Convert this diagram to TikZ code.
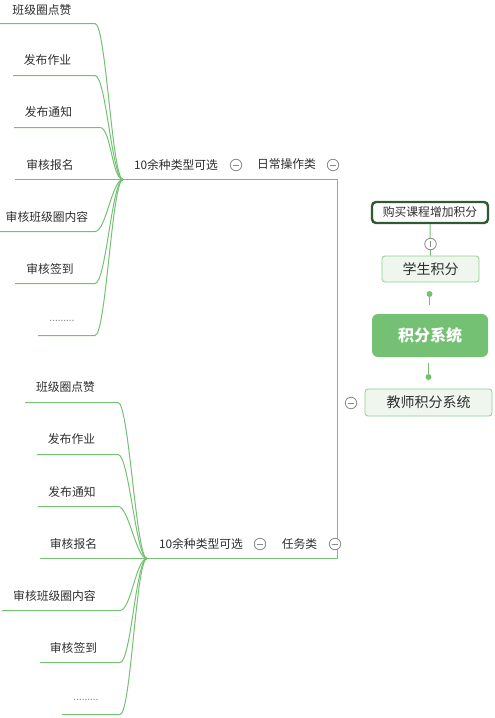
\documentclass[tikz,border=0pt]{standalone}
\usepackage{fontspec}
\setmainfont{Noto Sans CJK SC}
\definecolor{lc}{HTML}{74C174}
\definecolor{tc}{HTML}{2E2E2E}
\definecolor{gc}{HTML}{8A8A8A}
\definecolor{rootc}{HTML}{74C174}
\definecolor{lightf}{HTML}{EEF6EE}
\definecolor{lightb}{HTML}{8FCC8F}
\definecolor{darkb}{HTML}{2F5A33}
\begin{document}
\begin{tikzpicture}[x=1pt,y=-1pt,
  ln/.style={draw=lc, line width=1pt},
  leaf/.style={font=\fontsize{11.8}{13}\selectfont, text=tc, inner sep=0pt},
  tog/.style={circle, draw=gc, line width=0.8pt, minimum size=11.5pt, inner sep=0pt, fill=white,
    path picture={\draw[gc, line width=0.8pt] ([xshift=2.3pt]path picture bounding box.west) -- ([xshift=-2.3pt]path picture bounding box.east);}},
  togv/.style={circle, draw=gc, line width=0.8pt, minimum size=11.5pt, inner sep=0pt, fill=white,
    path picture={\draw[gc, line width=0.8pt] ([yshift=-2.3pt]path picture bounding box.north) -- ([yshift=2.3pt]path picture bounding box.south);}},
  lightbox/.style={draw=lightb, fill=lightf, line width=0.8pt, rounded corners=3pt, text=tc, inner sep=0pt,
    font=\fontsize{14}{16}\selectfont},
  rootbox/.style={fill=rootc, rounded corners=6pt, text=white, inner sep=0pt,
    font=\fontsize{16}{18}\selectfont\bfseries},
  buybox/.style={draw=darkb, fill=white, line width=2.4pt, rounded corners=4pt, text=tc, inner sep=0pt,
    font=\fontsize{11.8}{13}\selectfont},
  dots/.style={font=\fontsize{10}{12}\selectfont, text=gc, inner sep=0pt}
]
\useasboundingbox (0,0) rectangle (495,718);

% ---- right side nodes ----
\node[rootbox, minimum width=116pt, minimum height=43pt] (root) at (430,335.5) {积分系统};
\node[lightbox, minimum width=97pt, minimum height=26pt] (stu) at (430.5,269) {学生积分};
\node[buybox, minimum width=116pt, minimum height=21pt] (buy) at (430,212.5) {购买课程增加积分};
\node[lightbox, minimum width=127pt, minimum height=27pt] (tea) at (428.5,402.5) {教师积分系统};

\draw[ln] (buy.south) -- (stu.north);
\node[togv] (tbuy) at (430.5,244) {};

\coordinate (d1) at (429.5,294);
\coordinate (d1e) at (429.5,305);
\draw[ln] (d1) -- (d1e);
\fill[lc] (d1) circle (3pt);

\coordinate (d2s) at (428.5,363);
\coordinate (d2) at (428.5,377);
\draw[ln] (d2s) -- (d2);
\fill[lc] (d2) circle (3pt);

\node[tog] (ttea) at (351,403) {};

% ---- trunk ----
\coordinate (ts4) at (15,179.5);
\coordinate (ct) at (123,179.5);
\coordinate (vt) at (337.5,179.5);
\coordinate (vb) at (337.5,558.5);
\coordinate (cb) at (147,558.5);
\coordinate (bs4) at (40,558.5);
\draw[ln] (ts4) -- (vt) -- (vb) -- (bs4);

% middle labels
\node[leaf] (m1) at (176,164.5) {10余种类型可选};
\node[tog] (tm1) at (236,165) {};
\node[leaf] (d1l) at (286.5,164.5) {日常操作类};
\node[tog] (td1) at (333,165) {};

\node[leaf] (m2) at (201,544) {10余种类型可选};
\node[tog] (tm2) at (260,544) {};
\node[leaf] (d2l) at (299.5,544) {任务类};
\node[tog] (td2) at (335,544) {};

% ---- top leaves ----
\node[leaf] (tl4) at (50,164.5) {审核报名};
\foreach \t/\cx/\ty/\xs/\xe/\uy [count=\i] in {
  班级圈点赞/42/10/0/95/23.5,
  发布作业/47.5/60.5/13/95/75.5,
  发布通知/48.5/112.5/14/100/127.5,
  审核班级圈内容/47/216.5/0/95/231.5,
  审核签到/50/268.5/15/95/283.5}{
  \node[leaf] (tl\i) at (\cx,\ty) {\t};
  \coordinate (tsx\i) at (\xs,\uy);
  \coordinate (tex\i) at (\xe,\uy);
  \draw[ln] (tsx\i) -- (tex\i) .. controls +(11,0) and +(-11,0) .. (ct);
}
\node[dots] (tl7) at (62,320.5) {.........};
\coordinate (tsx7) at (38,335.5);
\coordinate (tex7) at (95,335.5);
\draw[ln] (tsx7) -- (tex7) .. controls +(11,0) and +(-11,0) .. (ct);

% ---- bottom leaves ----
\node[leaf] (bl4) at (73.5,544) {审核报名};
\foreach \t/\cx/\ty/\xs/\xe/\uy [count=\i] in {
  班级圈点赞/65.5/387.5/25/118/402.5,
  发布作业/71.5/439.5/37/118/454.5,
  发布通知/72/492/38/118/506.5,
  审核班级圈内容/54.5/596/2/120/610.5,
  审核签到/73.5/648/40/120/662.5}{
  \node[leaf] (bl\i) at (\cx,\ty) {\t};
  \coordinate (bsx\i) at (\xs,\uy);
  \coordinate (bex\i) at (\xe,\uy);
  \draw[ln] (bsx\i) -- (bex\i) .. controls +(11,0) and +(-11,0) .. (cb);
}
\node[dots] (bl7) at (86,700) {.........};
\coordinate (bsx7) at (62,714.5);
\coordinate (bex7) at (120,714.5);
\draw[ln] (bsx7) -- (bex7) .. controls +(11,0) and +(-11,0) .. (cb);
\end{tikzpicture}
\end{document}
